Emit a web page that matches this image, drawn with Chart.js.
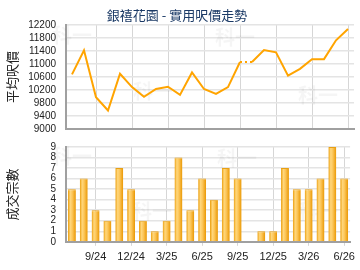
<!DOCTYPE html>
<html><head><meta charset="utf-8">
<script src="https://cdn.jsdelivr.net/npm/chart.js@4/dist/chart.umd.min.js"></script>
<style>
html,body{margin:0;padding:0;background:#fff;}
body{width:360px;height:270px;overflow:hidden;position:relative;}
#w1{position:absolute;left:0;top:0;width:360px;height:136px;}
#w2{position:absolute;left:0;top:136px;width:360px;height:134px;}
</style></head><body>
<div id="w1"><canvas id="c1" width="360" height="136"></canvas></div>
<div id="w2"><canvas id="c2" width="360" height="134"></canvas></div>
<script>
// ---- data ----
const months = ['7/24','8/24','9/24','10/24','11/24','12/24','1/25','2/25','3/25','4/25','5/25','6/25',
                '7/25','8/25','9/25','10/25','11/25','12/25','1/26','2/26','3/26','4/26','5/26','6/26'];
const shownLabels = ['9/24','12/24','3/25','6/25','9/25','12/25','3/26','6/26'];
const avgPrice = [10680,11420,9980,9570,10700,10290,9990,10230,10300,10050,10740,10230,
                  10080,10290,11060,11060,11430,11360,10640,10850,11150,11150,11730,12080];
const txCount = [5,6,3,2,7,5,2,1,2,8,3,6,4,7,6,0,1,1,7,5,5,6,9,6];
const missingIndex = [15];
const titleText = '銀禧花園 - 實用呎價走勢';
const priceAxisTitle = '平均呎價';
const countAxisTitle = '成交宗數';
const watermark = '科一';

const FONT = 'Arial, "Liberation Sans", "Noto Sans CJK TC", sans-serif';
const CJK = '"Noto Sans CJK TC", "Noto Sans CJK SC", sans-serif';

const wmPlugin = (spots) => ({
  id: 'wm',
  beforeDatasetsDraw(chart) {
    const c = chart.ctx;
    c.save();
    c.font = 'bold 20px ' + CJK;
    c.fillStyle = 'rgba(0,0,0,0.04)';
    c.textAlign = 'center';
    c.textBaseline = 'middle';
    spots.forEach(p => c.fillText(watermark, p[0], p[1]));
    c.restore();
  }
});

const fixWidth = (s) => { s.width = 66; };
const xGridColor = (ctx) => {
  const i = ctx.index;
  return (i !== undefined && shownLabels.includes(months[i])) ? '#d6d6d6' : 'rgba(0,0,0,0)';
};

new Chart(document.getElementById('c1'), {
  type: 'line',
  data: {
    labels: months,
    datasets: [{
      data: avgPrice,
      borderColor: '#ffa400',
      borderWidth: 2,
      pointRadius: 0,
      tension: 0,
      fill: false,
      segment: {
        borderDash: (ctx) => missingIndex.includes(ctx.p1DataIndex) ? [2, 3] : undefined
      }
    }]
  },
  options: {
    responsive: false,
    animation: false,
    devicePixelRatio: 1,
    layout: { padding: { left: 0, right: 6, top: 0, bottom: 7 } },
    plugins: {
      legend: { display: false },
      tooltip: { enabled: false },
      title: {
        display: true, text: titleText, color: '#1b3a66',
        font: { family: CJK, size: 13, weight: 'normal' },
        padding: { top: 7, bottom: 2.4 }
      }
    },
    scales: {
      x: {
        offset: true,
        grid: { offset: false, color: xGridColor, drawTicks: false, lineWidth: 1 },
        border: { color: '#a0a0a0', width: 2 },
        ticks: { display: false, autoSkip: false }
      },
      y: {
        min: 9000, max: 12200,
        afterFit: fixWidth,
        grid: { color: '#e4e4e4', lineWidth: 1.5, drawTicks: true, tickLength: 10, tickColor: 'rgba(0,0,0,0)' },
        border: { color: '#a0a0a0', width: 2 },
        ticks: { stepSize: 400, autoSkip: false, color: '#222', padding: 0, font: { family: FONT, size: 10 },
                 callback: (v) => String(v) },
        title: { display: true, text: priceAxisTitle, color: '#222', font: { family: CJK, size: 13 }, padding: { top: 4, bottom: 0 } }
      }
    }
  },
  plugins: [wmPlugin([[72, 35], [235, 37], [153, 91], [318, 95]])]
});

const barFill = (ctx) => {
  const chart = ctx.chart;
  if (ctx.dataIndex === undefined || !chart.chartArea) return '#f9b632';
  const x = chart.scales.x.getPixelForValue(ctx.dataIndex);
  const g = chart.ctx.createLinearGradient(x - 4, 0, x + 4, 0);
  g.addColorStop(0, '#eb9c08');
  g.addColorStop(0.3, '#ffd77c');
  g.addColorStop(0.55, '#fcc65a');
  g.addColorStop(1, '#e99600');
  return g;
};

new Chart(document.getElementById('c2'), {
  type: 'bar',
  data: {
    labels: months,
    datasets: [{
      data: txCount,
      backgroundColor: barFill,
      borderColor: '#e8a014',
      borderWidth: { top: 1, left: 0, right: 0, bottom: 0 },
      borderSkipped: 'bottom',
      barPercentage: 0.67,
      categoryPercentage: 1
    }]
  },
  options: {
    responsive: false,
    animation: false,
    devicePixelRatio: 1,
    layout: { padding: { left: 0, right: 6, top: 11, bottom: 1 } },
    plugins: { legend: { display: false }, tooltip: { enabled: false } },
    scales: {
      x: {
        offset: true,
        grid: { offset: false, color: xGridColor, tickColor: xGridColor, tickLength: 4, lineWidth: 1 },
        border: { color: '#a0a0a0', width: 2 },
        ticks: {
          autoSkip: false, maxRotation: 0, minRotation: 0, padding: 5, color: '#222',
          font: { family: FONT, size: 11 },
          callback: (v, i) => shownLabels.includes(months[i]) ? months[i] : ''
        }
      },
      y: {
        min: 0, max: 9,
        afterFit: fixWidth,
        grid: { color: '#e4e4e4', lineWidth: 1.5, drawTicks: true, tickLength: 10, tickColor: 'rgba(0,0,0,0)' },
        border: { color: '#a0a0a0', width: 2 },
        ticks: { stepSize: 1, autoSkip: false, color: '#222', padding: 0, font: { family: FONT, size: 10 } },
        title: { display: true, text: countAxisTitle, color: '#222', font: { family: CJK, size: 13 }, padding: { top: 4, bottom: 0 } }
      }
    }
  },
  plugins: [wmPlugin([[72, 20], [237, 22], [152, 75], [318, 75]])]
});
</script>
</body></html>
